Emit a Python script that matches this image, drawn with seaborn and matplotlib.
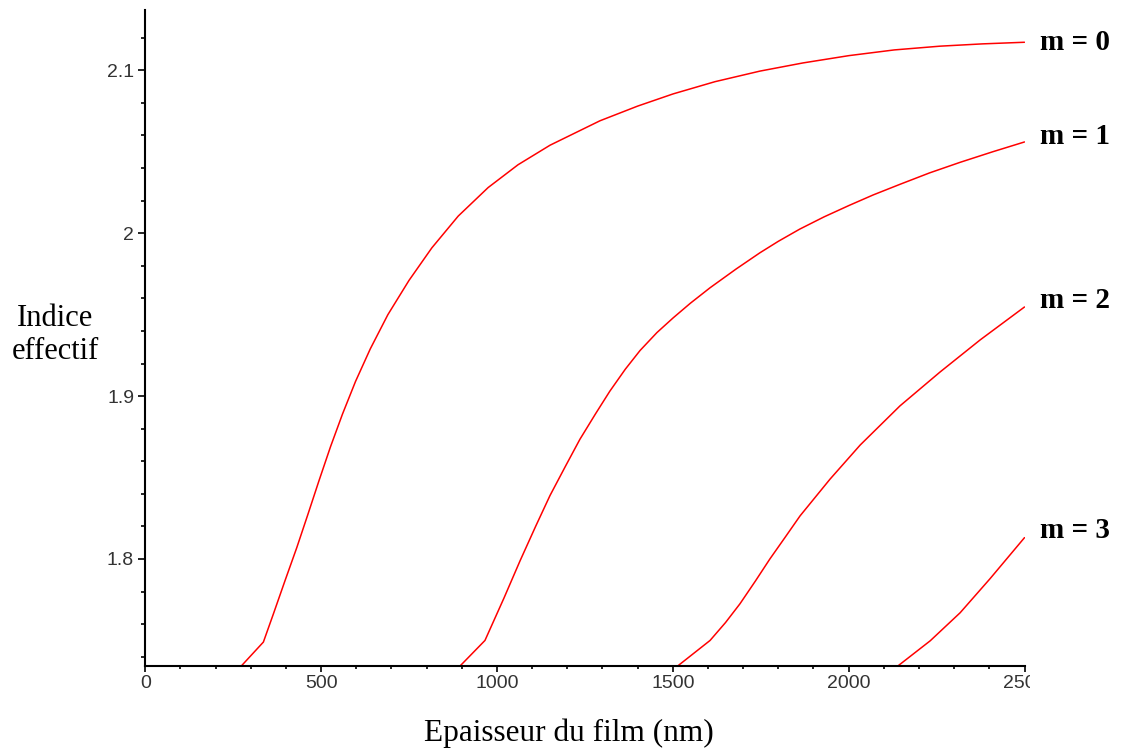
import numpy as np
import pandas as pd
import matplotlib
matplotlib.use("Agg")
import matplotlib.pyplot as plt
from matplotlib.ticker import MultipleLocator
from matplotlib.transforms import Bbox
import seaborn as sns

# ---- data ----
m0_x = [274, 336, 364, 398, 431, 462, 494, 527, 561, 598, 640, 690, 750, 815, 890, 975,
        1060, 1151, 1293, 1400, 1501, 1620, 1748, 1870, 2001, 2130, 2260, 2380, 2500]
m0_y = [1.7345, 1.749, 1.766, 1.787, 1.807, 1.827, 1.848, 1.869, 1.889, 1.909, 1.929, 1.950,
        1.971, 1.991, 2.0105, 2.028, 2.042, 2.054, 2.069, 2.078, 2.0855, 2.093, 2.0995, 2.1045,
        2.109, 2.1125, 2.1148, 2.1162, 2.1172]
m1_x = [896, 966, 1020, 1066, 1110, 1151, 1195, 1236, 1280, 1321, 1365, 1407, 1455, 1501,
        1550, 1606, 1680, 1748, 1800, 1861, 1930, 2001, 2070, 2146, 2230, 2317, 2410, 2500]
m1_y = [1.7345, 1.750, 1.776, 1.799, 1.820, 1.839, 1.857, 1.8735, 1.889, 1.903, 1.9165, 1.928,
        1.939, 1.948, 1.957, 1.9665, 1.978, 1.988, 1.995, 2.0025, 2.010, 2.017, 2.0235, 2.030,
        2.037, 2.0435, 2.050, 2.056]
m2_x = [1515, 1606, 1650, 1691, 1735, 1776, 1820, 1862, 1947, 2033, 2146, 2260, 2374, 2500]
m2_y = [1.7345, 1.750, 1.761, 1.7725, 1.7865, 1.800, 1.8135, 1.8265, 1.849, 1.870, 1.894,
        1.9148, 1.9345, 1.9547]
m3_x = [2141, 2232, 2317, 2402, 2500]
m3_y = [1.7345, 1.7498, 1.767, 1.7879, 1.8131]
mode_labels = ["m = 0", "m = 1", "m = 2", "m = 3"]

x_ticks = [0, 500, 1000, 1500, 2000, 2500]
x_tick_labels = ["0", "500", "1000", "1500", "2000", "2500"]
y_ticks = [1.8, 1.9, 2.0, 2.1]
y_tick_labels = ["1.8", "1.9", "2", "2.1"]

frames = []
for lab, xs, ys in zip(mode_labels, [m0_x, m1_x, m2_x, m3_x], [m0_y, m1_y, m2_y, m3_y]):
    frames.append(pd.DataFrame({"ep": xs, "n": ys, "mode": lab}))
df = pd.concat(frames, ignore_index=True)

sns.set_style("white")
plt.rcParams["font.family"] = ["Liberation Sans", "DejaVu Sans"]

fig = plt.figure(figsize=(11.24, 7.51), dpi=100)
ax = fig.add_axes([145.2 / 1124, (751 - 665.7) / 751, (1024.5 - 145.2) / 1124, (665.7 - 10) / 751])

sns.lineplot(data=df, x="ep", y="n", hue="mode", palette=["#ff0000"] * 4,
             estimator=None, sort=False, legend=False, linewidth=1.1, ax=ax)

ax.set_xlim(0, 2500)
ax.set_ylim(1.7345, 2.137)
for s in ["top", "right"]:
    ax.spines[s].set_visible(False)
for s in ["left", "bottom"]:
    ax.spines[s].set_color("black")
    ax.spines[s].set_linewidth(1.5)

ax.set_xticks(x_ticks)
ax.set_xticklabels(x_tick_labels)
ax.set_yticks(y_ticks)
ax.set_yticklabels(y_tick_labels)
ax.xaxis.set_minor_locator(MultipleLocator(100))
ax.yaxis.set_minor_locator(MultipleLocator(0.02))
ax.tick_params(axis="x", which="major", direction="out", length=4.5, width=1.2,
               color="black", labelsize=14, labelcolor="#333333", pad=2, bottom=True)
ax.tick_params(axis="x", which="minor", direction="out", length=2.5, width=1.2,
               color="black", bottom=True)
ax.tick_params(axis="y", which="major", direction="out", length=5, width=1.2,
               color="black", labelsize=14, labelcolor="#333333", pad=3, left=True)
ax.tick_params(axis="y", which="minor", direction="out", length=3, width=1.2,
               color="black", left=True)
ax.grid(False)

ax.set_xlabel("")
ax.set_ylabel("")
fig.text(569 / 1124, 1 - 733 / 751, "Epaisseur du film (nm)", ha="center", va="center",
         family=["Liberation Serif"], fontsize=22.5, color="black")
fig.text(55 / 1124, 1 - 335 / 751, "Indice\neffectif", ha="center", va="center",
         family=["Liberation Serif"], fontsize=22, color="black", linespacing=1.2)

ends = [m0_y[-1], m1_y[-1], m2_y[-1], m3_y[-1]]
offsets = [0, 4, 5, 5]
for lab, yv, off in zip(mode_labels, ends, offsets):
    ax.annotate(lab, xy=(2500, yv), xytext=(11, off), textcoords="offset points",
                ha="left", va="center", fontsize=21, fontweight="bold", color="black",
                family=["Liberation Serif"], annotation_clip=False)

fig.canvas.draw()
clip = Bbox.from_extents(0, 0, 1030, 751)
for t in ax.get_xticklabels():
    if t.get_text() == "2500":
        t.set_clip_box(clip)
        t.set_clip_on(True)

fig.savefig("out.png", dpi=100, facecolor="white")
